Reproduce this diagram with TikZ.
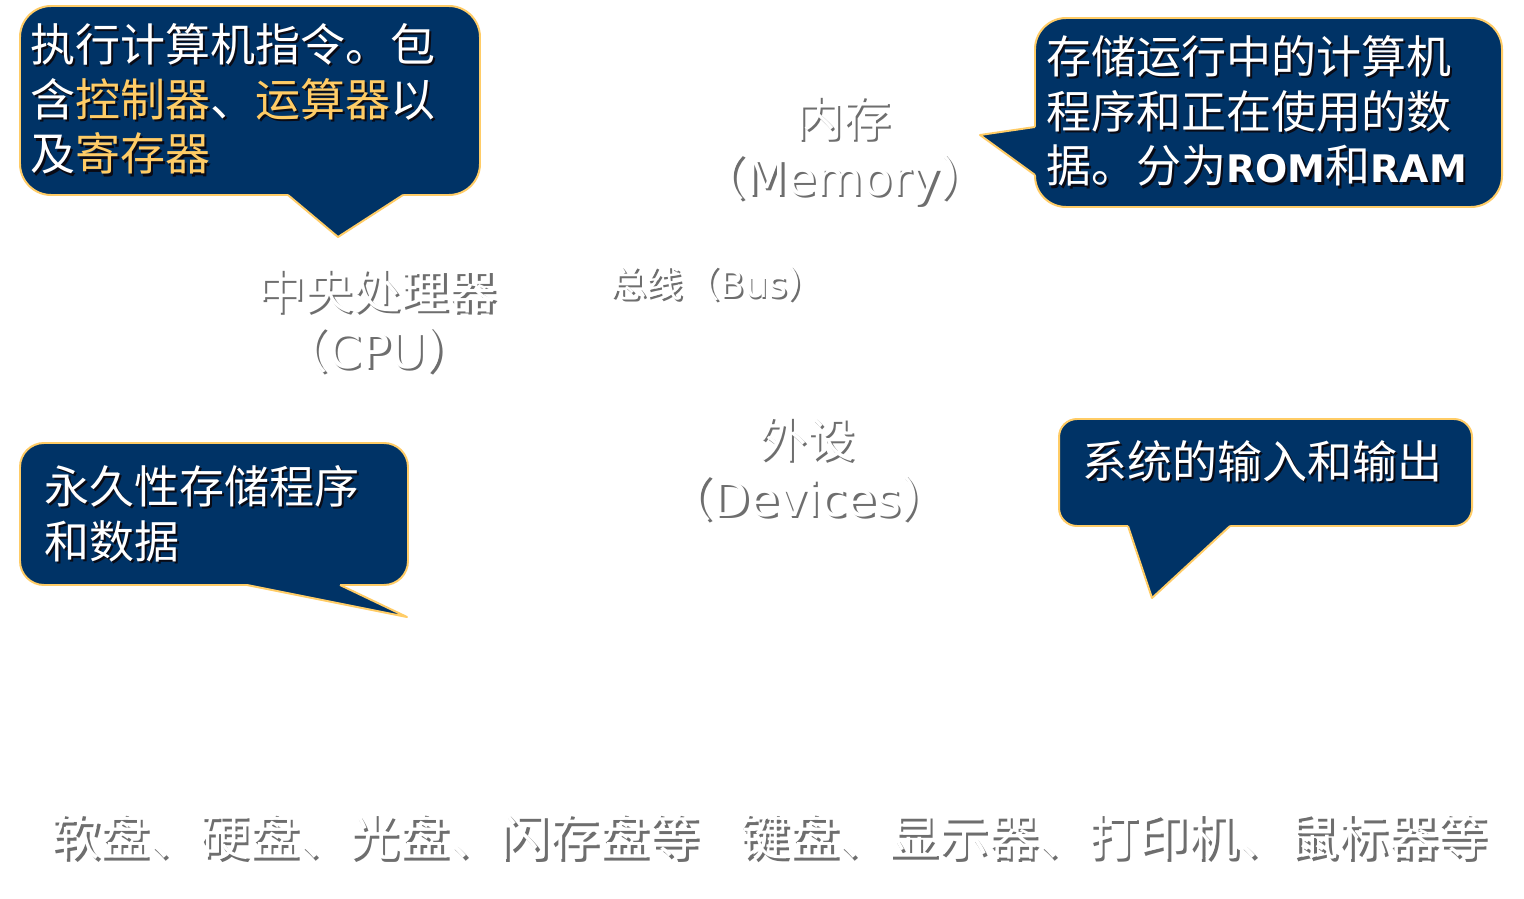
\documentclass[tikz,border=0pt]{standalone}
\usepackage{fontspec}
\setmainfont{Noto Sans CJK SC}
\newfontfamily\vd{DejaVu Sans}
\definecolor{cNavy}{HTML}{003366}
\definecolor{cGold}{HTML}{FFCC66}
\definecolor{cShade}{HTML}{6E6E6E}
\definecolor{cDark}{HTML}{0A0A14}
% text with a drop shadow
\newcommand\shtxt[2][cShade]{\makebox[0pt][l]{\hspace{0.05em}\raisebox{-0.05em}{\color{#1}#2}}{#2}}
\newcommand\cw[1]{\shtxt[cDark]{#1}}
\newcommand\cy[1]{\textcolor{cGold}{\shtxt[cDark]{#1}}}
\tikzset{
  bubble/.style={fill=cNavy,draw=cGold,line width=1.4pt},
  tail/.style={draw=cGold,line width=1.4pt,line join=round},
  ctext/.style={anchor=west,inner sep=0pt,align=left,text=white,font=\fontsize{32}{39}\selectfont},
  wtext/.style={inner sep=0pt,align=center,text=white,font=\fontsize{34}{42}\selectfont},
}
\begin{document}
\begin{tikzpicture}[x=0.025cm,y=-0.025cm]
\fill[white] (0,0) rectangle (1524,899);
\useasboundingbox (0,0) rectangle (1524,899);
% callouts
\draw[bubble,rounded corners=0.78cm] (20,6) rectangle (480,195);
\fill[cNavy] (288,188) -- (288,195) -- (338,237) -- (403,195) -- (403,188) -- cycle;
\draw[tail] (288,195) -- (338,237) -- (403,195);
\draw[bubble,rounded corners=0.78cm] (1035,18) rectangle (1502,207);
\fill[cNavy] (1042,127) -- (1035,127) -- (980,135) -- (1035,175) -- (1042,175) -- cycle;
\draw[tail] (1035,127) -- (980,135) -- (1035,175);
\draw[bubble,rounded corners=0.6cm] (20,443) rectangle (408,585);
\fill[cNavy] (247,578) -- (247,585) -- (407,617) -- (340,585) -- (340,578) -- cycle;
\draw[tail] (247,585) -- (407,617) -- (340,585);
\draw[bubble,rounded corners=0.45cm] (1059,419) rectangle (1472,526);
\fill[cNavy] (1128,519) -- (1128,526) -- (1152,598) -- (1230,526) -- (1230,519) -- cycle;
\draw[tail] (1128,526) -- (1152,598) -- (1230,526);
% callout texts
\node[ctext] (cpuNote) at (30,100)
  {\cw{执行计算机指令。包}\\
   \cw{含}\cy{控制器}\cw{、}\cy{运算器}\cw{以}\\
   \cw{及}\cy{寄存器}};
\node[ctext] (memNote) at (1046,112)
  {\cw{存储运行中的计算机}\\
   \cw{程序和正在使用的数}\\
   \cw{据。分为}\cw{\vd\bfseries\fontsize{27}{39}\selectfont ROM}\cw{和}\cw{\vd\bfseries\fontsize{27}{39}\selectfont RAM}};
\node[ctext] (romNote) at (44,515) {\cw{永久性存储程序}\\\cw{和数据}};
\node[ctext] (ioNote) at (1082,462) {\cw{系统的输入和输出}};
% labels
\node[wtext] (cpu) at (377,322) {\shtxt{中央处理器}\\\shtxt{（{\vd CPU}）}};
\node[wtext] (mem) at (843,152) {\shtxt{内存}\\\shtxt{（{\vd Memory}）}};
\node[wtext,font=\fontsize{26}{30}\selectfont] (bus) at (717,285) {\shtxt{总线（{\vd Bus}）}};
\node[wtext] (dev) at (807,470) {\shtxt{外设}\\\shtxt{（{\vd Devices}）}};
\node[wtext,font=\fontsize{35.5}{42}\selectfont] (store) at (375,838) {\shtxt{软盘、硬盘、光盘、闪存盘等}};
\node[wtext,font=\fontsize{35.5}{42}\selectfont] (io) at (1114,838) {\shtxt{键盘、显示器、打印机、鼠标器等}};
\end{tikzpicture}
\end{document}
